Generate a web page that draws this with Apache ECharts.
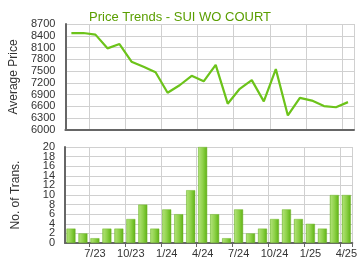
<!DOCTYPE html>
<html><head><meta charset="utf-8">
<script src="https://cdn.jsdelivr.net/npm/echarts@6/dist/echarts.min.js"></script>
<style>html,body{margin:0;padding:0;background:#fff}#c{width:360px;height:270px}</style>
</head><body><div id="c"></div>
<script>
var months = ['5/23','6/23','7/23','8/23','9/23','10/23','11/23','12/23','1/24','2/24','3/24','4/24','5/24','6/24','7/24','8/24','9/24','10/24','11/24','12/24','1/25','2/25','3/25','4/25'];
var avgPrice = [8470,8470,8430,8080,8190,7740,7610,7470,6950,7140,7380,7240,7660,6670,7050,7270,6730,7550,6370,6820,6750,6610,6580,6710];
var transactions = [3,2,1,3,3,5,8,3,7,6,11,20,6,1,7,2,3,5,7,5,4,3,10,10];
var priceTicks = {min:6000, max:8700, step:300};
var transTicks = {min:0, max:20, step:2};

var font = 'Arial, "Liberation Sans", sans-serif';
var every3 = function(i){ return i % 3 === 2; };
var plain = function(v){ return String(v); };
var chart = echarts.init(document.getElementById('c'), null, {renderer:'canvas'});
var labelBase = {color:'#333', fontSize:11, fontFamily:font, margin:10,
  showMinLabel:true, showMaxLabel:true, hideOverlap:false};
chart.setOption({
  animation:false,
  title:{text:'Price Trends - SUI WO COURT', left:'center', top:6,
    textStyle:{color:'#5a9e00', fontSize:13, fontWeight:'normal', fontFamily:font}},
  grid:[
    {left:65, right:6, top:24, height:106},
    {left:65, right:6, top:147, height:96}
  ],
  xAxis:[
    {type:'category', gridIndex:0, data:months, boundaryGap:true,
     axisLine:{lineStyle:{color:'#666', width:2}},
     axisTick:{show:false}, axisLabel:{show:false},
     splitLine:{show:true, interval:every3, lineStyle:{color:'#d0d0d0', width:1}}},
    {type:'category', gridIndex:1, data:months, boundaryGap:true,
     axisLine:{lineStyle:{color:'#666', width:2}},
     axisTick:{show:true, interval:every3, length:4, lineStyle:{color:'#666'}},
     axisLabel:{interval:every3, color:'#333', fontSize:11, fontFamily:font, margin:5},
     splitLine:{show:true, interval:every3, lineStyle:{color:'#d0d0d0', width:1}}}
  ],
  yAxis:[
    {type:'value', gridIndex:0, min:priceTicks.min, max:priceTicks.max, interval:priceTicks.step,
     name:'Average Price', nameLocation:'middle', nameGap:43, nameRotate:90,
     nameTextStyle:{color:'#333', fontSize:12, fontFamily:font},
     axisLine:{show:true, lineStyle:{color:'#666', width:2}}, axisTick:{show:false},
     axisLabel:Object.assign({formatter:plain}, labelBase),
     splitLine:{lineStyle:{color:'#d0d0d0', width:1}}},
    {type:'value', gridIndex:1, min:transTicks.min, max:transTicks.max, interval:transTicks.step,
     name:'No. of Trans.', nameLocation:'middle', nameGap:43, nameRotate:90,
     nameTextStyle:{color:'#333', fontSize:12, fontFamily:font},
     axisLine:{show:true, lineStyle:{color:'#666', width:2}}, axisTick:{show:false},
     axisLabel:Object.assign({formatter:function(v){ return v % 4 === 0 ? String(v) : ''; }}, labelBase),
     splitLine:{lineStyle:{color:'#d0d0d0', width:1}}},
    {type:'value', gridIndex:1, position:'left', min:transTicks.min, max:transTicks.max, interval:transTicks.step,
     axisLine:{show:false}, axisTick:{show:false}, splitLine:{show:false},
     axisLabel:Object.assign({formatter:function(v){ return v % 4 === 2 ? String(v) : ''; }}, labelBase)}
  ],
  series:[
    {type:'line', xAxisIndex:0, yAxisIndex:0, data:avgPrice, symbol:'none',
     lineStyle:{color:'#6cc31a', width:2.2}},
    {type:'bar', xAxisIndex:1, yAxisIndex:1, data:transactions, barWidth:9,
     itemStyle:{
       color:new echarts.graphic.LinearGradient(0,0,1,0,[
         {offset:0, color:'#80c840'},
         {offset:0.15, color:'#aade6e'},
         {offset:0.5, color:'#8fd24a'},
         {offset:0.85, color:'#6cbc22'},
         {offset:1, color:'#5aa414'}
       ]),
       borderColor:'#74b830', borderWidth:0.5
     }}
  ]
});
</script></body></html>
